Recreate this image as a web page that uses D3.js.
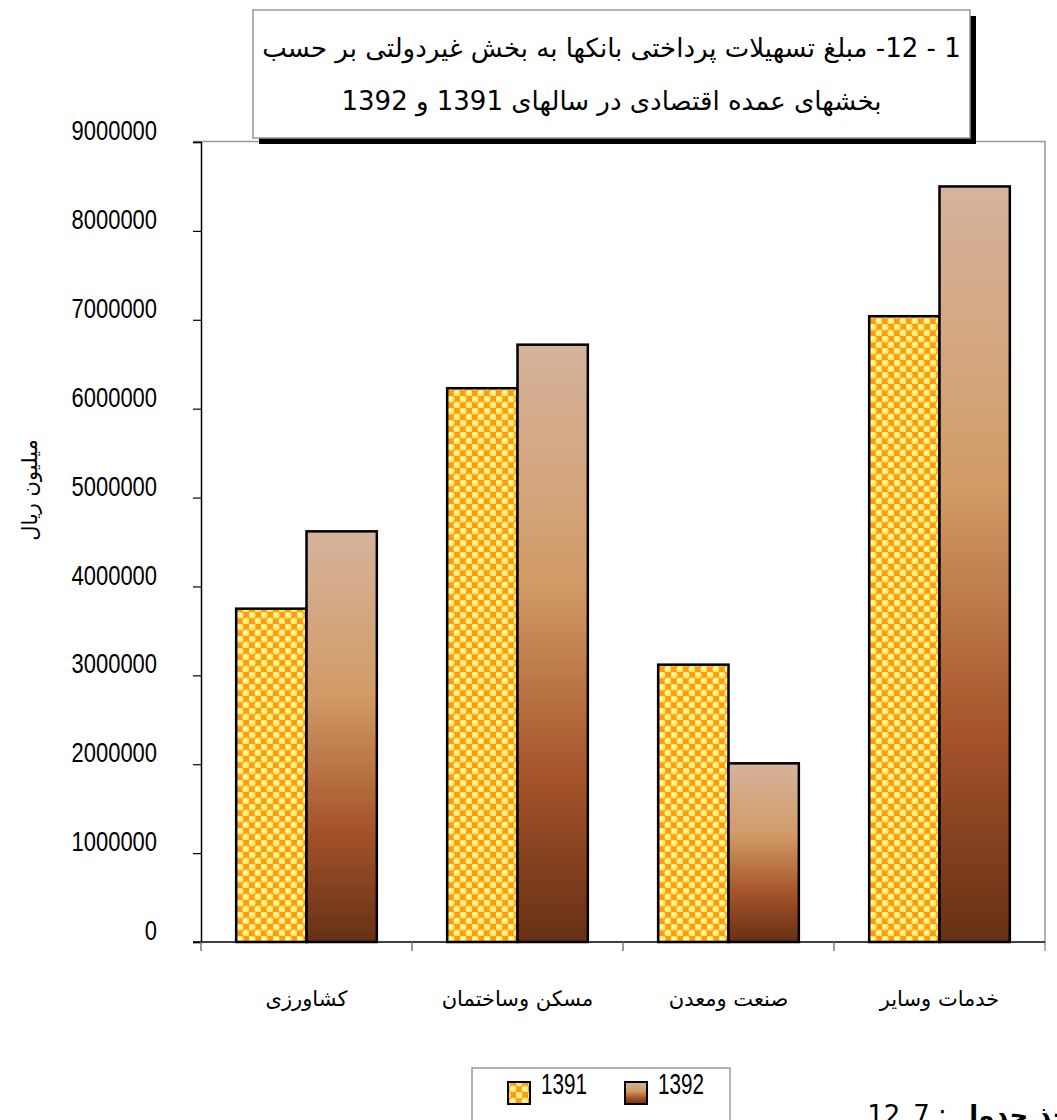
<!DOCTYPE html>
<html>
<head>
<meta charset="utf-8">
<script src="https://cdn.jsdelivr.net/npm/d3@7"></script>
<style>
  body { margin: 0; background: #fff; }
  svg { display: block; }
  .fa { font-family: "DejaVu Sans", sans-serif; }
  .num { font-family: "Liberation Sans Narrow", "Arial Narrow", "Liberation Sans", sans-serif; }
</style>
</head>
<body>
<div id="chart"></div>
<script>
// --- data ---
const categories = ["کشاورزی", "مسکن وساختمان", "صنعت ومعدن", "خدمات وسایر"];
const series = ["1391", "1392"];
const values1391 = [3750000, 6230000, 3120000, 7040000];
const values1392 = [4620000, 6720000, 2010000, 8500000];
const yTicks = [0, 1000000, 2000000, 3000000, 4000000, 5000000, 6000000, 7000000, 8000000, 9000000];
const titleLines = [
  "1 - 12- مبلغ تسهیلات پرداختی بانکها به بخش غیردولتی بر حسب",
  "بخشهای عمده اقتصادی در سالهای 1391 و 1392"
];
const yLabel = "میلیون ریال";

const width = 1057, height = 1120;
const plot = { left: 201, right: 1045, top: 142, bottom: 942 };

const svg = d3.select("#chart").append("svg")
  .attr("width", width)
  .attr("height", height);

const defs = svg.append("defs");

// pattern for 1391 (orange / yellow spheres)
const pat = defs.append("pattern")
  .attr("id", "sphere")
  .attr("patternUnits", "userSpaceOnUse")
  .attr("width", 12).attr("height", 12);
pat.append("rect").attr("width", 12).attr("height", 12).attr("fill", "#ff9c0c");
[[3, 3], [9, 9]].forEach(([cx, cy]) => {
  pat.append("circle").attr("cx", cx).attr("cy", cy).attr("r", 3.6).attr("fill", "#ffe873");
  pat.append("circle").attr("cx", cx - 0.7).attr("cy", cy - 0.7).attr("r", 1.6).attr("fill", "#ffffa8");
});

// gradient for 1392
const grad = defs.append("linearGradient")
  .attr("id", "brown")
  .attr("x1", 0).attr("y1", 0).attr("x2", 0).attr("y2", 1);
[["0%", "#d6b39c"], ["40%", "#d19b66"], ["72%", "#a6542b"], ["100%", "#663014"]]
  .forEach(([o, c]) => grad.append("stop").attr("offset", o).attr("stop-color", c));

const fills = { "1391": "url(#sphere)", "1392": "url(#brown)" };

// --- scales ---
const x = d3.scaleBand().domain(categories).range([plot.left, plot.right]).padding(0);
const xs = d3.scaleBand().domain(series).range([0, x.bandwidth()]).paddingInner(0).paddingOuter(0.5);
const y = d3.scaleLinear().domain([0, 9000000]).range([plot.bottom, plot.top]);

// plot area border (top / right)
svg.append("path")
  .attr("d", `M${plot.left - 8},${plot.top - 0.5}H${plot.right}V${plot.bottom + 9}`)
  .attr("fill", "none").attr("stroke", "#999").attr("stroke-width", 1.5);

// y axis
const yAxis = svg.append("g")
  .attr("transform", `translate(${plot.left},0)`)
  .call(d3.axisLeft(y).tickValues(yTicks).tickSize(8).tickPadding(36).tickFormat(d3.format("d")));
yAxis.select(".domain").attr("stroke", "#000").attr("stroke-width", 1.5);
yAxis.selectAll(".tick line").attr("stroke", "#000").attr("stroke-width", 1.2);
yAxis.selectAll(".tick text")
  .attr("class", "num")
  .attr("font-size", 27)
  .attr("fill", "#000")
  .attr("y", -11)
  .attr("textLength", d => String(d).length * 12.2)
  .attr("lengthAdjust", "spacingAndGlyphs");

// bars
const groups = svg.append("g").selectAll("g")
  .data(categories)
  .join("g")
  .attr("transform", d => `translate(${x(d)},0)`);

groups.selectAll("rect")
  .data((d, i) => [
    { s: "1391", v: values1391[i] },
    { s: "1392", v: values1392[i] }
  ])
  .join("rect")
  .attr("x", d => xs(d.s))
  .attr("width", xs.bandwidth())
  .attr("y", d => y(d.v))
  .attr("height", d => y(0) - y(d.v))
  .attr("fill", d => fills[d.s])
  .attr("stroke", "#000")
  .attr("stroke-width", 2.5);

// x axis
svg.append("line")
  .attr("x1", plot.left - 8).attr("x2", plot.right)
  .attr("y1", plot.bottom).attr("y2", plot.bottom)
  .attr("stroke", "#000").attr("stroke-width", 1.5);
svg.append("g").selectAll("line")
  .data(categories.map(c => x(c)))
  .join("line")
  .attr("x1", d => d).attr("x2", d => d)
  .attr("y1", plot.bottom).attr("y2", plot.bottom + 9)
  .attr("stroke", "#777").attr("stroke-width", 1.5);

svg.append("g").selectAll("text")
  .data(categories)
  .join("text")
  .attr("class", "fa")
  .attr("direction", "rtl")
  .attr("x", d => x(d) + x.bandwidth() / 2)
  .attr("y", 1006)
  .attr("text-anchor", "middle")
  .attr("font-size", 21)
  .text(d => d);

// y label
svg.append("text")
  .attr("class", "fa")
  .attr("direction", "rtl")
  .attr("transform", "translate(37,490) rotate(-90)")
  .attr("text-anchor", "middle")
  .attr("font-size", 21)
  .text(yLabel);

// title box with shadow
const tb = { x: 253, y: 10, w: 717, h: 128 };
svg.append("rect")
  .attr("x", tb.x + 6).attr("y", tb.y + 6)
  .attr("width", tb.w).attr("height", tb.h)
  .attr("fill", "#000");
svg.append("rect")
  .attr("x", tb.x).attr("y", tb.y)
  .attr("width", tb.w).attr("height", tb.h)
  .attr("fill", "#fff").attr("stroke", "#999").attr("stroke-width", 1.5);
svg.append("g").selectAll("text")
  .data(titleLines)
  .join("text")
  .attr("class", "fa")
  .attr("direction", "rtl")
  .attr("x", tb.x + tb.w / 2)
  .attr("y", (d, i) => 57 + i * 53)
  .attr("text-anchor", "middle")
  .attr("font-size", 26)
  .text(d => d);

// legend
const lg = svg.append("g");
lg.append("rect")
  .attr("x", 472).attr("y", 1068).attr("width", 258).attr("height", 80)
  .attr("fill", "#fff").attr("stroke", "#999").attr("stroke-width", 1.5);
series.forEach((s, i) => {
  const lx = 508 + i * 117;
  lg.append("rect")
    .attr("x", lx).attr("y", 1082).attr("width", 22).attr("height", 22)
    .attr("fill", fills[s]).attr("stroke", "#000").attr("stroke-width", 2);
  lg.append("text")
    .attr("class", "num")
    .attr("x", lx + 33).attr("y", 1094)
    .attr("font-size", 29)
    .attr("textLength", 46)
    .attr("lengthAdjust", "spacingAndGlyphs")
    .text(s);
});

// source note (runs off the bottom edge, as in the original)
const note = svg.append("text")
  .attr("class", "fa")
  .attr("direction", "rtl")
  .attr("x", 1097).attr("y", 1124)
  .attr("text-anchor", "start")
  .attr("font-size", 26);
note.append("tspan").attr("font-weight", "bold").text("مأخذ جدول ");
note.append("tspan").text(":   \u206612_7\u2069");
</script>
</body>
</html>
